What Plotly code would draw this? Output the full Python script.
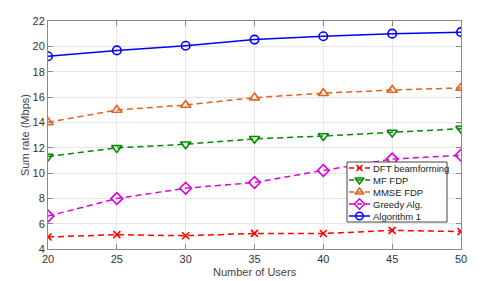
import plotly.graph_objects as go

users = [20, 25, 30, 35, 40, 45, 50]
dft = [4.95, 5.13, 5.05, 5.23, 5.22, 5.47, 5.38]
mf = [11.3, 11.98, 12.27, 12.7, 12.92, 13.2, 13.5]
mmse = [14.0, 14.97, 15.37, 15.95, 16.3, 16.55, 16.72]
greedy = [6.6, 7.98, 8.8, 9.25, 10.2, 11.1, 11.4]
alg1 = [19.22, 19.68, 20.05, 20.53, 20.8, 21.0, 21.12]
names = ["DFT beamforming", "MF FDP", "MMSE FDP", "Greedy Alg.", "Algorithm 1"]
x_title = "Number of Users"
y_title = "Sum rate (Mbps)"

styles = [
    ("#FF0000", "x-thin-open", "dash", 7),
    ("#008A00", "triangle-down-open", "dash", 9),
    ("#E2611E", "triangle-up-open", "dash", 9),
    ("#DD00DD", "diamond-open", "dash", 9),
    ("#0000FF", "circle-open", "solid", 8.5),
]
data = [dft, mf, mmse, greedy, alg1]

# page has an 8px body margin at top/left
OFF = 8
W, H = 491 - OFF, 281 - OFF
PL, PR, PT, PB = 48, 461, 21, 249  # plot area in page pixels
L, R, T, B = PL - OFF, (W + OFF) - PR, PT - OFF, (H + OFF) - PB
FONT = "Liberation Sans, Arial"


def px_to_paper(px, py):
    return (px - PL) / (PR - PL), (PB - py) / (PB - PT)


fig = go.Figure()
for name, vals, (col, sym, dash, ms) in zip(names, data, styles):
    fig.add_trace(go.Scatter(
        x=users, y=vals, name=name, mode="lines+markers",
        line=dict(color=col, width=1.5, dash="solid" if dash == "solid" else "6px,4px"),
        marker=dict(symbol=sym, size=ms, color=col, line=dict(color=col, width=1.6)),
        showlegend=False,
    ))

# --- custom compact legend drawn on a pixel-scaled overlay axis ---
bx0, bx1, by0, by1 = 347, 447, 162, 222
fig.add_trace(go.Scatter(
    x=[bx0, bx1, bx1, bx0, bx0], y=[by0, by0, by1, by1, by0],
    mode="lines", fill="toself", fillcolor="white",
    line=dict(color="#444444", width=1), xaxis="x2", yaxis="y2",
    showlegend=False, hoverinfo="skip",
))
row_h = (by1 - by0) / len(names)
annotations = []
for i, (name, (col, sym, dash, ms)) in enumerate(zip(names, styles)):
    yc = by0 + row_h * (i + 0.5)
    fig.add_trace(go.Scatter(
        x=[349, 370], y=[yc, yc], mode="lines",
        line=dict(color=col, width=1.5, dash="solid" if dash == "solid" else "5px,3px"),
        xaxis="x2", yaxis="y2", showlegend=False, hoverinfo="skip",
    ))
    fig.add_trace(go.Scatter(
        x=[359.5], y=[yc], mode="markers",
        marker=dict(symbol=sym, size=ms - 1, color=col, line=dict(color=col, width=1.5)),
        xaxis="x2", yaxis="y2", showlegend=False, hoverinfo="skip",
    ))
    annotations.append(dict(
        x=371, y=yc, xref="x2", yref="y2", text=name, showarrow=False,
        xanchor="left", yanchor="middle",
        font=dict(family=FONT, size=9.5, color="#222222"),
    ))

# axis titles (paper coordinates, outside the plot area)
tx, ty = px_to_paper(254.5, 272)
annotations.append(dict(
    x=tx, y=ty, xref="paper", yref="paper", text=x_title, showarrow=False,
    xanchor="center", yanchor="middle", font=dict(family=FONT, size=11, color="#444444"),
))
tx, ty = px_to_paper(25, 135)
annotations.append(dict(
    x=tx, y=ty, xref="paper", yref="paper", text=y_title, showarrow=False, textangle=-90,
    xanchor="center", yanchor="middle", font=dict(family=FONT, size=11, color="#444444"),
))

axis_common = dict(
    showline=True, linecolor="#8a8a8a", linewidth=1, mirror="allticks",
    ticks="inside", ticklen=5, tickcolor="#8a8a8a",
    showgrid=True, gridcolor="#e6e6e6", gridwidth=1, zeroline=False,
    tickfont=dict(family=FONT, size=11, color="#333333"),
    automargin=False,
)

fig.update_layout(
    width=W, height=H,
    margin=dict(l=L, r=R, t=T, b=B),
    paper_bgcolor="white", plot_bgcolor="white",
    font=dict(family=FONT, size=11, color="#333333"),
    xaxis=dict(range=[20, 50], tickvals=users, **axis_common),
    yaxis=dict(range=[4, 22], tickvals=list(range(4, 23, 2)), **axis_common),
    xaxis2=dict(overlaying="x", range=[PL, PR], visible=False, fixedrange=True),
    yaxis2=dict(overlaying="y", range=[PB, PT], visible=False, fixedrange=True),
    annotations=annotations,
    showlegend=False,
)

fig.write_html("out.html")
